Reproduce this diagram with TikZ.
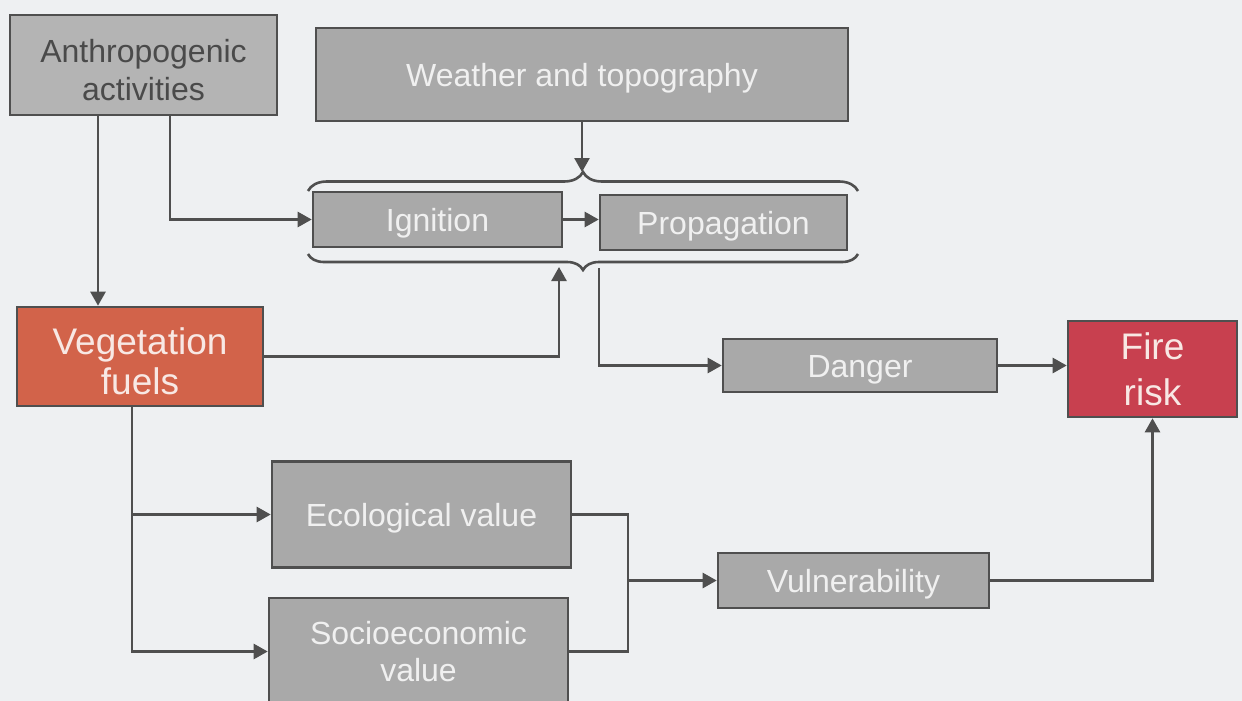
\documentclass[tikz,border=0pt]{standalone}
\usepackage{fontspec}
\setmainfont{Liberation Sans}
\usetikzlibrary{arrows.meta,decorations.pathreplacing,calc}
\definecolor{bg}{HTML}{EEF0F2}
\definecolor{boxgray}{HTML}{A9A9A9}
\definecolor{anthgray}{HTML}{B4B4B4}
\definecolor{edge}{HTML}{4F4F4F}
\definecolor{lighttext}{HTML}{F0F0F0}
\definecolor{darktext}{HTML}{4A4A4A}
\definecolor{vegred}{HTML}{D2634A}
\definecolor{firered}{HTML}{C8404F}
\definecolor{pinktext}{HTML}{F8E8E4}
\tikzset{
  box/.style={draw=edge, line width=1.3pt, fill=boxgray, text=lighttext,
    font=\fontsize{16}{17.5}\selectfont, align=center, inner sep=0pt},
  onebox/.style={box, text height=11.7pt, text depth=0pt},
  bigbox/.style={box, text=pinktext},
  ln/.style={draw=edge, line width=1.3pt},
  arr/.style={ln, -{Triangle[length=7pt,width=7.5pt]}},
  bracelink/.style={ln, decorate},
}
\begin{document}
\begin{tikzpicture}[x=0.5pt,y=-0.5pt]
\useasboundingbox (0,0) rectangle (1242,701);
\clip (0,0) rectangle (1242,701);
\fill[bg] (0,0) rectangle (1242,701);

% nodes
\node[box, fill=anthgray, text=darktext, font=\fontsize{16}{19}\selectfont,
      minimum width=133.5pt, minimum height=50pt] (anth) at (143.5,65)
      {\rule{0pt}{16.5pt}Anthropogenic\\activities};
\node[onebox, minimum width=266pt, minimum height=46.5pt] (weather) at (582,74.5) {Weather and topography};
\node[onebox, minimum width=124.5pt, minimum height=27.5pt] (ign) at (437.5,219.5) {Ignition};
\node[onebox, minimum width=123.5pt, minimum height=27.5pt] (prop) at (723.5,222.5) {Propagation};
\node[bigbox, fill=vegred, font=\fontsize{18.5}{20}\selectfont,
      minimum width=123pt, minimum height=49.5pt] (veg) at (140,356.5)
      {\rule{0pt}{18.5pt}Vegetation\\fuels};
\node[onebox, minimum width=137pt, minimum height=26.5pt] (danger) at (860,365.5) {Danger};
\node[bigbox, fill=firered, font=\fontsize{18.5}{23}\selectfont,
      minimum width=84.5pt, minimum height=48pt] (fire) at (1152.5,369) {Fire\\risk};
\node[onebox, minimum width=149.5pt, minimum height=53pt] (eco) at (421.5,514.5) {Ecological value};
\node[box, font=\fontsize{16}{18.5}\selectfont, minimum width=149.5pt, minimum height=53.5pt] (socio) at (418.5,651.5) {Socioeconomic\\value};
\node[onebox, minimum width=135.5pt, minimum height=27.5pt] (vuln) at (853.5,580.5) {Vulnerability};

% helper coordinates
\coordinate (xa) at (98,0);
\coordinate (xb) at (170,0);
\coordinate (xv) at (132,0);
\coordinate (xm) at (628,0);
\coordinate (tbL) at (308,191);
\coordinate (tbR) at (858,191);
\coordinate (tbtip) at (582,172);
\coordinate (bbL) at (308,254);
\coordinate (bbR) at (858,254);
\coordinate (bbin) at (559,267);
\coordinate (bbout) at (599,268);

% braces
\draw[bracelink, decoration={brace,amplitude=9.5pt}] (tbL) -- (tbR);
\draw[bracelink, decoration={brace,amplitude=8pt}] (bbR) -- (bbL);

% connectors
\draw[arr] (xa |- anth.south) -- (xa |- veg.north);
\draw[arr] (xb |- anth.south) |- (ign.west);
\draw[arr] (weather.south) -- (tbtip);
\draw[arr] (ign.east) -- (prop.west |- ign.east);
\draw[arr] (veg.east) -| (bbin);
\draw[arr] (bbout) |- (danger.west);
\draw[arr] (danger.east) -- (fire.west |- danger.east);
\draw[arr] (xv |- veg.south) |- (eco.west);
\draw[arr] (xv |- veg.south) |- (socio.west);
\draw[ln] (eco.east) -| (xm |- socio.east) -- (socio.east);
\draw[arr] (xm |- vuln.west) -- (vuln.west);
\draw[arr] (vuln.east) -| (fire.south);
\end{tikzpicture}
\end{document}
